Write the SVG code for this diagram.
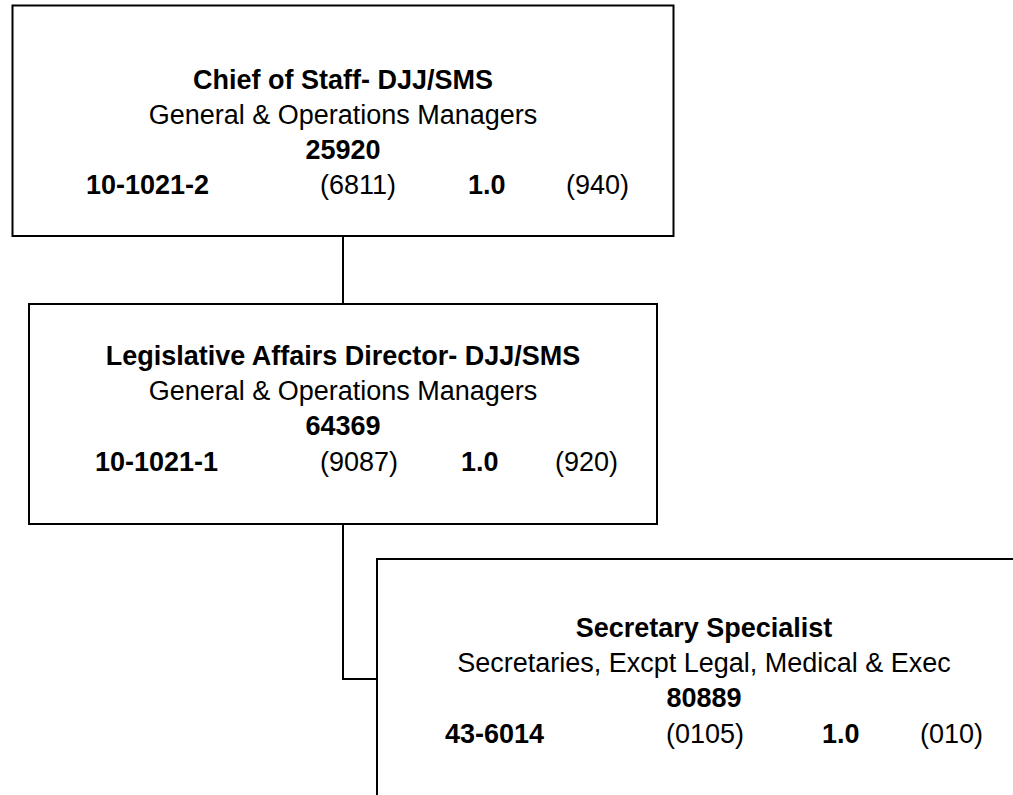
<svg xmlns="http://www.w3.org/2000/svg" width="1013" height="795" viewBox="0 0 1013 795">
  <style>
    .box { fill: #ffffff; stroke: #000000; stroke-width: 2; }
    .link { fill: none; stroke: #000000; stroke-width: 2; }
    text { font-family: "Liberation Sans", Arial, sans-serif; font-size: 27px; fill: #000000; }
    .b { font-weight: bold; }
    .c { text-anchor: middle; }
  </style>
  <rect width="1013" height="795" fill="#ffffff"/>

  <!-- reporting lines -->
  <g id="connectors">
    <path class="link" d="M343,236 V304"/>
    <path class="link" d="M343,524 V679 H377"/>
  </g>

  <g id="chief-of-staff">
    <rect class="box" x="12.5" y="5.5" width="661" height="230.5"/>
    <text class="b c" x="343" y="89">Chief of Staff- DJJ/SMS</text>
    <text class="c" x="343" y="124">General &amp; Operations Managers</text>
    <text class="b c" x="343" y="159">25920</text>
    <text class="b" x="86" y="194">10-1021-2</text>
    <text x="320" y="194">(6811)</text>
    <text class="b" x="468" y="194">1.0</text>
    <text x="566" y="194">(940)</text>
  </g>

  <g id="legislative-affairs-director">
    <rect class="box" x="29" y="304" width="628" height="220"/>
    <text class="b c" x="343" y="365">Legislative Affairs Director- DJJ/SMS</text>
    <text class="c" x="343" y="400">General &amp; Operations Managers</text>
    <text class="b c" x="343" y="435">64369</text>
    <text class="b" x="95" y="471">10-1021-1</text>
    <text x="320" y="471">(9087)</text>
    <text class="b" x="461" y="471">1.0</text>
    <text x="555" y="471">(920)</text>
  </g>

  <g id="secretary-specialist">
    <rect class="box" x="377" y="559" width="660" height="260"/>
    <text class="b c" x="704" y="637">Secretary Specialist</text>
    <text class="c" x="704" y="672">Secretaries, Excpt Legal, Medical &amp; Exec</text>
    <text class="b c" x="704" y="707">80889</text>
    <text class="b" x="445" y="743">43-6014</text>
    <text x="666" y="743">(0105)</text>
    <text class="b" x="822" y="743">1.0</text>
    <text x="920" y="743">(010)</text>
  </g>
</svg>
